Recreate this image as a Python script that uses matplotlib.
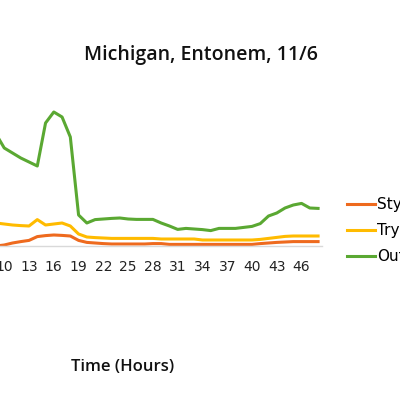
import matplotlib
matplotlib.use("Agg")
import matplotlib.pyplot as plt
import numpy as np

# hours shown on the category axis (1..48); the series start at hour 9
hours = list(range(1, 49))
data_hours = list(range(9, 49))

stylet = [0, 0.5, 1.5, 2.2, 2.8, 4.7, 5.2, 5.5, 5.3, 5.0,
          2.8, 1.8, 1.5, 1.2, 1.0, 1.0, 1.0, 1.0, 1.0, 1.2,
          1.2, 0.8, 0.8, 0.8, 0.8, 0.8, 0.8, 0.8, 0.8, 0.8,
          0.8, 0.8, 1.2, 1.5, 1.8, 2.0, 2.2, 2.2, 2.2, 2.2]
trypan = [11.5, 11.0, 10.5, 10.2, 10.0, 13.2, 10.5, 11.0, 11.5, 10.0,
          6.0, 4.5, 4.2, 4.0, 3.8, 3.8, 3.8, 3.8, 3.8, 3.8,
          3.5, 3.5, 3.5, 3.5, 3.5, 3.0, 3.0, 3.0, 3.0, 3.0,
          3.0, 3.0, 3.3, 3.8, 4.3, 4.8, 5.0, 5.0, 5.0, 5.0]
outside = [56, 49, 46.5, 44, 42, 40, 61.5, 67, 64.5, 54.5,
           15.5, 11.5, 13.2, 13.5, 13.8, 14, 13.5, 13.3, 13.3, 13.3,
           11.5, 10, 8.3, 8.8, 8.5, 8.2, 7.7, 8.8, 8.8, 8.8,
           9.3, 9.8, 11.2, 15, 16.5, 19, 20.5, 21.3, 19, 18.8]

series_names = ["Stylet", "Trypan", "Outside"]
colors = ["#EE6A1E", "#FFBB00", "#5AA832"]

plt.rcParams['font.family'] = ['Open Sans', 'DejaVu Sans']

fig = plt.figure(figsize=(4, 4), dpi=100)
# plot area runs off the left edge of the picture, as in the reference
ax = fig.add_axes([-0.1855, 0.385, 0.991, 0.40])

for vals, name, c in zip([stylet, trypan, outside], series_names, colors):
    ax.plot(data_hours, vals, color=c, lw=2.2, label=name, solid_joinstyle='round')

ax.set_xlim(0.5, 48.5)
ax.set_ylim(0, 80)
ax.set_xticks(hours[::3])
ax.set_xticklabels([str(h) for h in hours[::3]], fontsize=10, color='#222222',
                   family='DejaVu Sans')
ax.set_yticks([])
ax.tick_params(axis='x', length=0, pad=10)
for s in ['top', 'right', 'left']:
    ax.spines[s].set_visible(False)
ax.spines['bottom'].set_color('#D9D9D9')
ax.spines['bottom'].set_linewidth(1)

fig.text(0.5025, 0.862, "Michigan, Entonem, 11/6", ha='center', va='center',
         fontsize=14, fontweight='semibold', color='#111111')
fig.text(0.307, 0.083, "Time (Hours)", ha='center', va='center',
         fontsize=12, fontweight='semibold', color='#111111')

fig.legend(loc='upper left', bbox_to_anchor=(0.851, 0.523), frameon=False,
           prop={'family': 'DejaVu Sans', 'size': 11},
           handlelength=1.85, handletextpad=0.15, labelspacing=0.72,
           borderaxespad=0)

fig.savefig("out.png", dpi=100)
